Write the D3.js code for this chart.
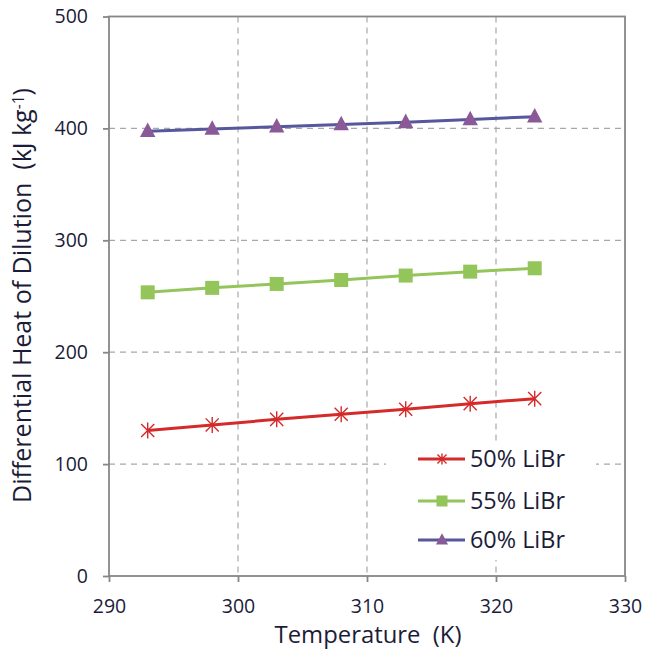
<!DOCTYPE html>
<html>
<head>
<meta charset="utf-8">
<script src="https://cdn.jsdelivr.net/npm/d3@7"></script>
<style>
  html, body { margin: 0; padding: 0; background: #fff; }
  svg { display: block; font-family: "Open Sans", "DejaVu Sans", sans-serif; }
  svg text { white-space: pre; }
</style>
</head>
<body>
<svg id="chart" width="646" height="653"></svg>
<script>
// Temperatures (K) at which the heat of dilution was evaluated
const temperatures = [293, 298, 303, 308, 313, 318, 323];
// Differential heat of dilution (kJ/kg) per LiBr mass fraction
const libr50 = [130, 135, 140, 144.5, 149, 154, 158.5];
const libr55 = [253.5, 257.5, 261, 264.5, 268.5, 272, 275];
const libr60 = [397.5, 399.5, 401.5, 403.5, 405.5, 408, 410.5];
const seriesNames = ["50% LiBr", "55% LiBr", "60% LiBr"];
const xTicks = [290, 300, 310, 320, 330];
const yTicks = [0, 100, 200, 300, 400, 500];

const series = [
  { name: seriesNames[0], values: libr50, line: "#d42a2a", marker: "star", mColor: "#d42a2a" },
  { name: seriesNames[1], values: libr55, line: "#93c55a", marker: "square", mColor: "#93c55a" },
  { name: seriesNames[2], values: libr60, line: "#56579c", marker: "triangle", mColor: "#8a5a98" }
];

const svg = d3.select("#chart");
const plotL = 109, plotR = 625, plotT = 16.5, plotB = 576;
const textColor = "#1c1c38";

const x = d3.scaleLinear().domain([290, 330]).range([plotL, plotR]);
const y = d3.scaleLinear().domain([0, 500]).range([plotB, plotT]);

const gridColor = "#a8a8a8";
const axisColor = "#878787";

// Dashed gridlines
svg.append("g").selectAll("line").data(yTicks.filter(d => d > 0 && d < 500)).join("line")
  .attr("x1", plotL).attr("x2", plotR)
  .attr("y1", d => y(d)).attr("y2", d => y(d))
  .attr("stroke", gridColor).attr("stroke-width", 1.2).attr("stroke-dasharray", "6,5");
svg.append("g").selectAll("line").data(xTicks.filter(d => d > 290 && d < 330)).join("line")
  .attr("x1", d => x(d)).attr("x2", d => x(d))
  .attr("y1", plotT).attr("y2", plotB)
  .attr("stroke", gridColor).attr("stroke-width", 1.2).attr("stroke-dasharray", "6,5");

// Plot border
svg.append("rect").attr("x", plotL).attr("y", plotT)
  .attr("width", plotR - plotL).attr("height", plotB - plotT)
  .attr("fill", "none").attr("stroke", axisColor).attr("stroke-width", 1.8);

// Axes
const xAxis = svg.append("g").attr("transform", `translate(0,${plotB})`)
  .call(d3.axisBottom(x).tickValues(xTicks).tickSize(6).tickPadding(17).tickFormat(d3.format("d")));
const yAxis = svg.append("g").attr("transform", `translate(${plotL},0)`)
  .call(d3.axisLeft(y).tickValues(yTicks).tickSize(6).tickPadding(15).tickFormat(d3.format("d")));
[xAxis, yAxis].forEach(a => {
  a.select(".domain").remove();
  a.selectAll(".tick line").attr("stroke", axisColor).attr("stroke-width", 1.8);
  a.selectAll(".tick text").attr("fill", textColor).style("font-size", "19.5px")
    .style("font-family", "'Open Sans', 'DejaVu Sans', sans-serif");
});

// Lines and markers
const line = d3.line().x((d, i) => x(temperatures[i])).y(d => y(d));

function drawMarker(g, type, color, cx, cy, s) {
  if (type === "square") {
    g.append("rect").attr("x", cx - s / 2).attr("y", cy - s / 2)
      .attr("width", s).attr("height", s).attr("fill", color);
  } else if (type === "triangle") {
    g.append("path")
      .attr("d", `M${cx},${cy - s * 0.62}L${cx + s * 0.55},${cy + s * 0.42}L${cx - s * 0.55},${cy + s * 0.42}Z`)
      .attr("fill", color);
  } else {
    const r = s / 2;
    const d = r * 0.82;
    g.append("path")
      .attr("d", `M${cx},${cy - r}V${cy + r}M${cx - d},${cy - d}L${cx + d},${cy + d}M${cx - d},${cy + d}L${cx + d},${cy - d}`)
      .attr("stroke", color).attr("stroke-width", 1.4).attr("fill", "none");
  }
}

const markerSize = { star: 16, square: 14, triangle: 14 };
series.forEach(s => {
  svg.append("path").datum(s.values).attr("d", line)
    .attr("fill", "none").attr("stroke", s.line).attr("stroke-width", 3);
  const g = svg.append("g");
  s.values.forEach((v, i) => drawMarker(g, s.marker, s.mColor, x(temperatures[i]), y(v), markerSize[s.marker]));
});

// Fit a text element to a target length by adjusting its font size
function fitText(sel, target) {
  const base = parseFloat(sel.style("font-size"));
  const len = sel.node().getComputedTextLength();
  sel.style("font-size", (base * target / len) + "px");
}

// Legend
const legend = svg.append("g");
legend.append("rect").attr("x", 386).attr("y", 442).attr("width", 210).attr("height", 118).attr("fill", "#fff");
series.forEach((s, i) => {
  const ly = [459, 501, 540][i];
  legend.append("line").attr("x1", 418).attr("x2", 465).attr("y1", ly).attr("y2", ly)
    .attr("stroke", s.line).attr("stroke-width", 3);
  drawMarker(legend, s.marker, s.mColor, 442, ly, 11);
  const t = legend.append("text").attr("x", 470).attr("y", ly).attr("dy", "0.36em")
    .attr("fill", textColor).style("font-size", "22px").text(s.name);
  fitText(t, 95);
});

// Axis titles
const xt = svg.append("text").attr("x", 368).attr("y", 643)
  .attr("text-anchor", "middle").attr("fill", textColor).style("font-size", "22px")
  .text("Temperature  (K)");
fitText(xt, 187);

const yt = svg.append("text")
  .attr("transform", `translate(31,${(88 + 503) / 2}) rotate(-90)`)
  .attr("text-anchor", "middle").attr("fill", textColor).style("font-size", "21px");
yt.append("tspan").text("Differential Heat of Dilution  (kJ kg");
yt.append("tspan").attr("dy", "-0.45em").style("font-size", "0.62em").text("-1");
yt.append("tspan").attr("dy", "0.28em").text(")");
fitText(yt, 415);
</script>
</body>
</html>
